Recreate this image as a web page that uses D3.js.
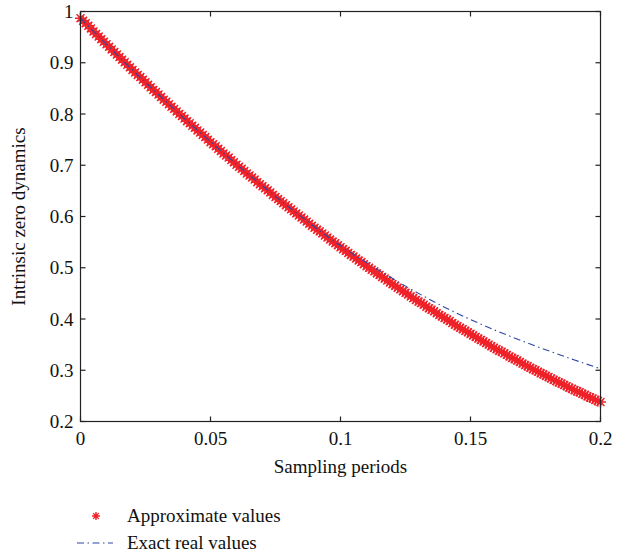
<!DOCTYPE html>
<html><head><meta charset="utf-8">
<script src="https://cdn.jsdelivr.net/npm/d3@7"></script>
<style>body{margin:0;background:#fff}svg{display:block}</style>
</head><body><svg id="c" width="632" height="556"></svg>
<script>
// Sampling periods for the approximate values (step 0.001)
const approxT = d3.range(0, 201).map(i => i / 1000);
const approxValues = [
0.987,0.982,0.977,0.972,0.967,0.961,0.956,0.951,0.946,0.941,
0.936,0.931,0.926,0.921,0.916,0.911,0.906,0.901,0.896,0.891,
0.886,0.881,0.876,0.872,0.867,0.862,0.857,0.852,0.847,0.843,
0.838,0.833,0.828,0.824,0.819,0.814,0.810,0.805,0.800,0.796,
0.791,0.786,0.782,0.777,0.773,0.768,0.764,0.759,0.755,0.750,
0.745,0.741,0.737,0.732,0.728,0.723,0.719,0.715,0.710,0.706,
0.701,0.697,0.693,0.689,0.684,0.680,0.676,0.672,0.667,0.663,
0.659,0.655,0.651,0.647,0.642,0.638,0.634,0.630,0.626,0.622,
0.618,0.614,0.610,0.606,0.602,0.598,0.594,0.590,0.586,0.582,
0.578,0.574,0.571,0.567,0.563,0.559,0.555,0.551,0.548,0.544,
0.540,0.536,0.533,0.529,0.525,0.522,0.518,0.514,0.511,0.507,
0.503,0.500,0.496,0.493,0.489,0.486,0.482,0.479,0.475,0.471,
0.468,0.465,0.461,0.458,0.454,0.451,0.448,0.444,0.441,0.437,
0.434,0.431,0.428,0.424,0.421,0.418,0.415,0.411,0.408,0.405,
0.402,0.399,0.396,0.392,0.389,0.386,0.383,0.380,0.377,0.374,
0.371,0.368,0.365,0.362,0.359,0.356,0.353,0.350,0.347,0.344,
0.341,0.338,0.336,0.333,0.330,0.327,0.324,0.322,0.319,0.316,
0.313,0.310,0.308,0.305,0.302,0.300,0.297,0.294,0.292,0.289,
0.287,0.284,0.281,0.279,0.276,0.274,0.271,0.269,0.266,0.264,
0.261,0.259,0.257,0.254,0.252,0.249,0.247,0.245,0.242,0.240,
0.238];
const exactT = [0,0.01,0.02,0.03,0.04,0.05,0.06,0.07,0.08,0.09,0.10,0.11,0.12,0.13,0.14,0.15,0.16,0.17,0.18,0.19,0.20];
const exactValues = [0.987,0.936,0.886,0.838,0.791,0.746,0.702,0.660,0.619,0.580,0.543,0.510,0.479,0.450,0.423,0.399,0.377,0.357,0.338,0.320,0.303];
const xTicks = [0, 0.05, 0.1, 0.15, 0.2];
const xTickLabels = ["0","0.05","0.1","0.15","0.2"];
const yTicks = [0.2,0.3,0.4,0.5,0.6,0.7,0.8,0.9,1];
const yTickLabels = ["0.2","0.3","0.4","0.5","0.6","0.7","0.8","0.9","1"];
const seriesNames = ["Approximate values","Exact real values"];
const xTitle = "Sampling periods";
const yTitle = "Intrinsic zero dynamics";

const FONT = "Liberation Serif";
const L=80.5, R=600.5, T=11.5, B=421.5;
const svg = d3.select("#c");
const x = d3.scaleLinear().domain([0,0.2]).range([L,R]);
const y = d3.scaleLinear().domain([0.2,1]).range([B,T]);
const red = "#ef2229", blue = "#2c46a6";

function star(s){ // MATLAB-style asterisk
  const a = s/2, d = a*0.72;
  return `M${-a},0L${a},0M0,${-a}L0,${a}M${-d},${-d}L${d},${d}M${-d},${d}L${d},${-d}`;
}

// markers
svg.append("g").selectAll("path").data(approxT.map((t,i)=>[t,approxValues[i]])).join("path")
  .attr("transform", d=>`translate(${x(d[0])},${y(d[1])})`)
  .attr("d", star(11)).attr("stroke", red).attr("stroke-width", 1.5).attr("fill","none");

// exact line
const line = d3.line().x((d,i)=>x(exactT[i])).y(d=>y(d)).curve(d3.curveMonotoneX);
svg.append("path").attr("d", line(exactValues)).attr("fill","none")
  .attr("stroke", blue).attr("stroke-width", 1.1).attr("stroke-dasharray","7,3.5,1.5,3.5");

// axes box
const ax = svg.append("g").attr("stroke","#222").attr("stroke-width",1.2).attr("fill","none");
ax.append("rect").attr("x",L).attr("y",T).attr("width",R-L).attr("height",B-T);
const tl = 5;
xTicks.forEach(v=>{
  ax.append("line").attr("x1",x(v)).attr("x2",x(v)).attr("y1",B).attr("y2",B-tl);
  ax.append("line").attr("x1",x(v)).attr("x2",x(v)).attr("y1",T).attr("y2",T+tl);
});
yTicks.forEach(v=>{
  ax.append("line").attr("x1",L).attr("x2",L+tl).attr("y1",y(v)).attr("y2",y(v));
  ax.append("line").attr("x1",R).attr("x2",R-tl).attr("y1",y(v)).attr("y2",y(v));
});
const fs = 19;
function txt(sel){ return sel.attr("font-family",FONT).attr("font-size",fs).attr("fill","#111"); }
txt(svg.append("g").selectAll("text").data(xTicks).join("text")
  .attr("x", d=>x(d)).attr("y", B+23).attr("text-anchor","middle"))
  .text((d,i)=>xTickLabels[i]);
txt(svg.append("g").selectAll("text").data(yTicks).join("text")
  .attr("x", L-7).attr("y", d=>y(d)+6.5).attr("text-anchor","end"))
  .text((d,i)=>yTickLabels[i]);
txt(svg.append("text").attr("x",(L+R)/2).attr("y",473).attr("text-anchor","middle")).text(xTitle);
txt(svg.append("text").attr("transform",`translate(25,${(T+B)/2}) rotate(-90)`).attr("text-anchor","middle")).text(yTitle);

// legend
svg.append("path").attr("transform","translate(96,516)").attr("d",star(8)).attr("stroke",red).attr("stroke-width",1.4).attr("fill","none");
txt(svg.append("text").attr("x",127).attr("y",522)).text(seriesNames[0]);
svg.append("line").attr("x1",77).attr("x2",113).attr("y1",543).attr("y2",543).attr("stroke",blue).attr("stroke-width",1.1).attr("stroke-dasharray","7,3.5,1.5,3.5");
txt(svg.append("text").attr("x",127).attr("y",549)).text(seriesNames[1]);
</script></body></html>
